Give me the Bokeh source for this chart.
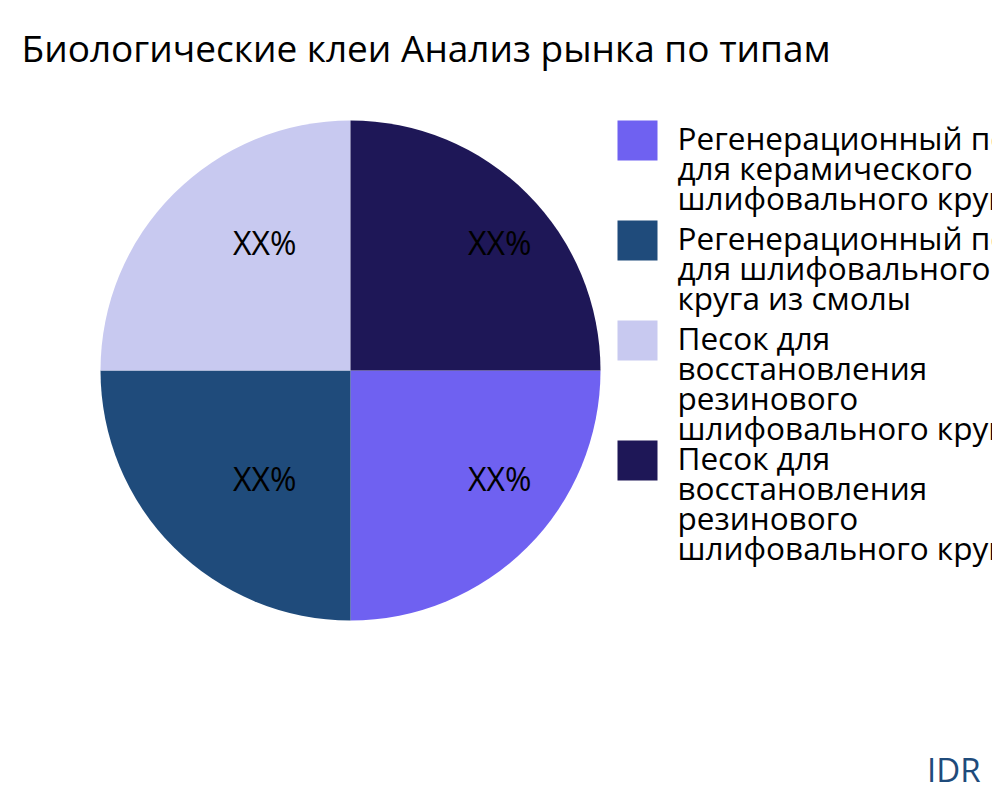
import math
import textwrap
from bokeh.plotting import figure
from bokeh.models import Range1d, ColumnDataSource
from bokeh.core.properties import value
from bokeh.embed import file_html
from bokeh.resources import INLINE

# ---- data ----
title = "Биологические клеи Анализ рынка по типам"
categories = [
    "Регенерационный песок для керамического шлифовального круга",
    "Регенерационный песок для шлифовального круга из смолы",
    "Песок для восстановления резинового шлифовального круга",
    "Песок для восстановления резинового шлифовального круга",
]
shares = [25, 25, 25, 25]
slice_labels = ["XX%", "XX%", "XX%", "XX%"]
colors = ["#6F61F1", "#1F4B7B", "#C8C9F0", "#1E1757"]
brand = "IDR"

FONT = "Open Sans"
W, H = 992, 792

def X(px):
    return px

def Y(py):
    return H - py

p = figure(width=W, height=H, output_backend="svg", toolbar_location=None,
           x_range=Range1d(0, W), y_range=Range1d(0, H), min_border=0)
p.axis.visible = False
p.grid.visible = False
p.outline_line_color = None
p.background_fill_color = "white"

# title
p.text(x=[X(21)], y=[Y(47)], text=[title], text_font=value(FONT),
       text_font_size="37px", text_baseline="middle", text_align="left",
       text_color="#000000")

# pie
cx, cy, r = X(350), Y(370), 250
total = sum(shares)
starts, ends, lx, ly = [], [], [], []
acc = 0.0
for s in shares:
    a0 = -2 * math.pi * acc / total
    a1 = -2 * math.pi * (acc + s) / total
    starts.append(a1)
    ends.append(a0)
    mid = (a0 + a1) / 2
    lx.append(cx + 0.665 * r * math.cos(mid))
    ly.append(cy + 0.665 * r * math.sin(mid) + 10)
    acc += s
src = ColumnDataSource(dict(start=starts, end=ends, color=colors))
p.wedge(x=cx, y=cy, radius=r, start_angle="start", end_angle="end",
        fill_color="color", line_color=None, source=src)
p.text(x=lx, y=ly, text=slice_labels, text_font=value(FONT),
       text_font_size="32px", text_align="left", text_baseline="middle",
       text_color="#000000")

# legend
top = 120
for cat, col in zip(categories, colors):
    lines = textwrap.wrap(cat, 22)
    p.rect(x=[X(637)], y=[Y(top + 20)], width=40, height=40,
           fill_color=col, line_color=None)
    ys = [Y(top + 17 + 30 * i) for i in range(len(lines))]
    p.text(x=[X(677)] * len(lines), y=ys, text=lines, text_font=value(FONT),
           text_font_size="31.5px", text_align="left", text_baseline="middle",
           text_color="#000000")
    top += max(100, 30 * len(lines))

# brand
p.text(x=[X(980)], y=[Y(769)], text=[brand], text_font=value(FONT),
       text_font_size="33px", text_align="right", text_baseline="middle",
       text_color="#1F4B7B")

open("out.html", "w").write(file_html(p, INLINE))
